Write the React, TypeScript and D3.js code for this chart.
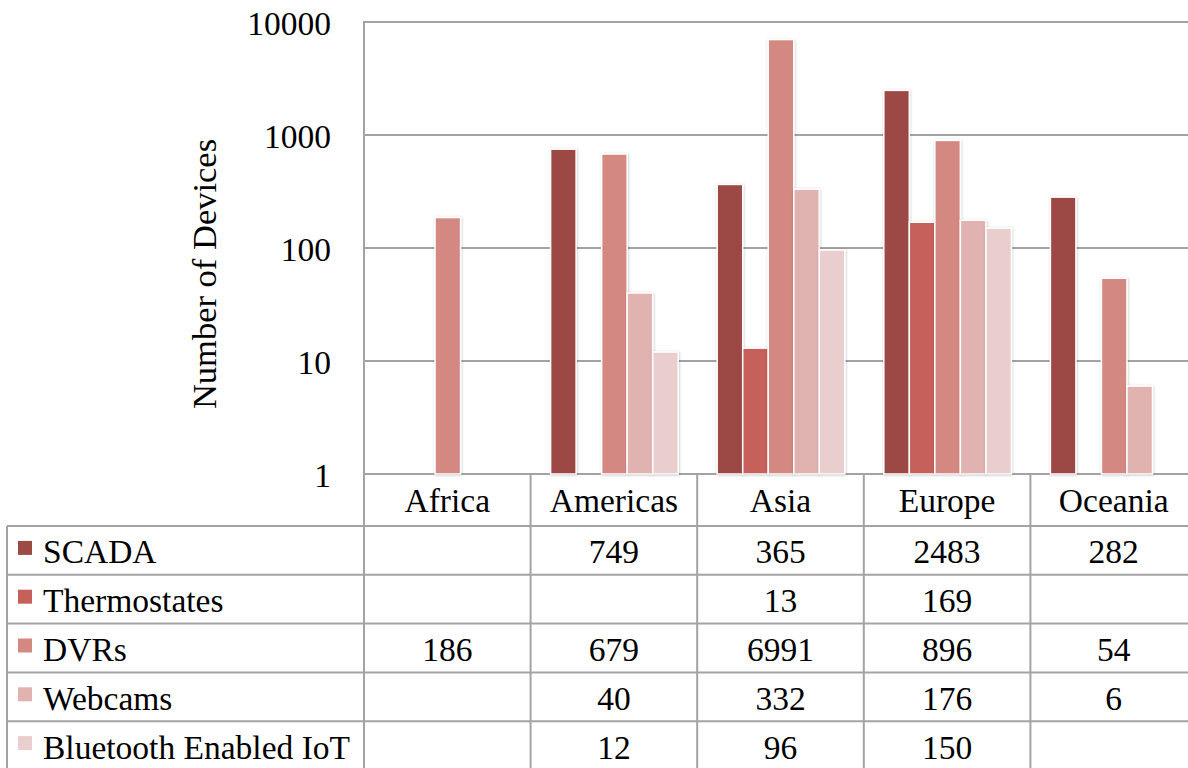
import React from "react";
import * as d3 from "d3";

const regions = ["Africa", "Americas", "Asia", "Europe", "Oceania"];
const seriesNames = ["SCADA", "Thermostates", "DVRs", "Webcams", "Bluetooth Enabled IoT"];
const seriesColors = ["#9c4a44", "#c5605a", "#d48882", "#e0b2b0", "#e9cecd"];

const scada = [null, 749, 365, 2483, 282];
const thermostats = [null, null, 13, 169, null];
const dvrs = [186, 679, 6991, 896, 54];
const webcams = [null, 40, 332, 176, 6];
const bluetooth = [null, 12, 96, 150, null];

const seriesValues: (number | null)[][] = [scada, thermostats, dvrs, webcams, bluetooth];
const yTicks = [1, 10, 100, 1000, 10000];

const W = 1188;
const H = 768;
const plotLeft = 364;
const plotTop = 22;
const plotBottom = 474;
const plotRight = 1197;
const tableLeft = 7;
const tableTop = 526;
const tableBottom = 770;
const FONT = "'Liberation Serif', 'Times New Roman', serif";
const FS = 33.5;
const GRID = "#a3a3a3";

export default function App() {
  const x = d3.scaleBand<string>().domain(regions).range([plotLeft, plotRight]);
  const inner = d3
    .scaleBand<string>()
    .domain(seriesNames)
    .range([20, x.bandwidth() - 19]);
  const y = d3.scaleLog().domain([1, 10000]).range([plotBottom, plotTop]);
  const rows = d3.scaleBand<string>().domain(seriesNames).range([tableTop, tableBottom]);

  return (
    <svg
      width={W}
      height={H}
      style={{ position: "absolute", left: 0, top: 0, background: "#fff" }}
      fontFamily={FONT}
    >
      <defs>
        <filter id="barShadow" x="-20%" y="-5%" width="140%" height="110%">
          <feDropShadow dx="0.5" dy="0.5" stdDeviation="1" floodColor="#000" floodOpacity="0.25" />
        </filter>
      </defs>

      {/* gridlines */}
      {yTicks.map((t) => (
        <line key={t} x1={plotLeft} x2={W} y1={y(t)} y2={y(t)} stroke={GRID} strokeWidth={2} />
      ))}
      {/* y axis line */}
      <line x1={plotLeft} x2={plotLeft} y1={plotTop - 1} y2={tableBottom} stroke={GRID} strokeWidth={2} />

      {/* tick labels */}
      {yTicks.map((t) => (
        <text key={t} x={331} y={y(t) + 13} textAnchor="end" fontSize={FS} fill="#000">
          {String(t)}
        </text>
      ))}

      {/* axis title */}
      <text
        transform={`translate(216, 274) rotate(-90)`}
        textAnchor="middle"
        fontSize={34.5}
        fill="#000"
      >
        Number of Devices
      </text>

      {/* bars */}
      {seriesNames.map((s, si) =>
        regions.map((r, ri) => {
          const v = seriesValues[si][ri];
          if (v == null) return null;
          const bx = (x(r) as number) + (inner(s) as number);
          const top = y(v);
          return (
            <rect
              key={s + r}
              x={bx}
              y={top}
              width={inner.bandwidth()}
              height={plotBottom - top}
              fill={seriesColors[si]}
              stroke="#fff"
              strokeWidth={1.5}
              filter="url(#barShadow)"
            />
          );
        })
      )}

      {/* data table: header row */}
      {regions.map((r) => (
        <g key={r}>
          <line
            x1={(x(r) as number) + x.bandwidth()}
            x2={(x(r) as number) + x.bandwidth()}
            y1={plotBottom}
            y2={tableBottom}
            stroke={GRID}
            strokeWidth={2}
          />
          <text
            x={(x(r) as number) + x.bandwidth() / 2}
            y={(plotBottom + tableTop) / 2 + 12}
            textAnchor="middle"
            fontSize={FS}
            fill="#000"
          >
            {r}
          </text>
        </g>
      ))}

      {/* data table: series rows */}
      <line x1={tableLeft} x2={tableLeft} y1={tableTop} y2={tableBottom} stroke={GRID} strokeWidth={2} />
      {seriesNames.map((s, si) => {
        const ry = rows(s) as number;
        const cy = ry + rows.bandwidth() / 2;
        return (
          <g key={s}>
            <line x1={tableLeft} x2={W} y1={ry} y2={ry} stroke={GRID} strokeWidth={2} />
            <rect x={18} y={cy - 9.5} width={14} height={14} fill={seriesColors[si]} />
            <text x={43} y={cy + 13} fontSize={FS} fill="#000">
              {s}
            </text>
            {regions.map((r, ri) => {
              const v = seriesValues[si][ri];
              if (v == null) return null;
              return (
                <text
                  key={r}
                  x={(x(r) as number) + x.bandwidth() / 2}
                  y={cy + 13}
                  textAnchor="middle"
                  fontSize={FS}
                  fill="#000"
                >
                  {String(v)}
                </text>
              );
            })}
          </g>
        );
      })}
    </svg>
  );
}
